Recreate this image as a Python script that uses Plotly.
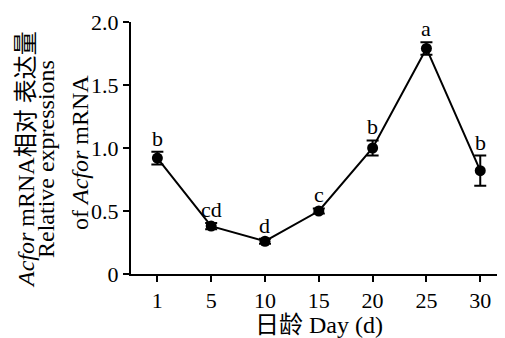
import plotly.graph_objects as go

days = ["1", "5", "10", "15", "20", "25", "30"]
values = [0.92, 0.38, 0.26, 0.50, 1.00, 1.79, 0.82]
errors = [0.05, 0.025, 0.02, 0.02, 0.06, 0.05, 0.12]
letters = ["b", "cd", "d", "c", "b", "a", "b"]
y_tickvals = [0, 0.5, 1.0, 1.5, 2.0]
y_ticktext = ["0", "0.5", "1.0", "1.5", "2.0"]

FONT = "Liberation Serif"
CJK = "Liberation Serif, Noto Sans CJK SC"

# page body has an 8px margin, so the figure is 8px smaller and all pixel
# positions below are given in screen coordinates (converted with OFF)
OFF = 8
W, H = 505 - OFF, 338 - OFF
plot_left = 131 - OFF
plot_top, plot_bottom = 22 - OFF, 274 - OFF
plot_width = W - plot_left

fig = go.Figure()
fig.add_trace(go.Scatter(
    x=list(range(len(days))), y=values,
    mode="lines+markers",
    line=dict(color="black", width=2),
    marker=dict(color="black", size=11, symbol="circle"),
    error_y=dict(type="data", array=errors, visible=True, color="black", thickness=2, width=6),
    showlegend=False,
))

for i, (v, e, t) in enumerate(zip(values, errors, letters)):
    fig.add_annotation(x=i, y=v + e, text=t, showarrow=False, yanchor="bottom", yshift=-1,
                       font=dict(family=FONT, size=22, color="black"))

fig.update_xaxes(
    range=[-0.49, 6.46],
    tickvals=list(range(len(days))), ticktext=days,
    showline=True, linecolor="black", linewidth=2,
    ticks="outside", ticklen=6, tickwidth=2, tickcolor="black",
    showgrid=False, zeroline=False,
    tickfont=dict(family=FONT, size=22, color="black"),
)
fig.update_yaxes(
    range=[0, 2.0],
    tickvals=y_tickvals, ticktext=y_ticktext,
    showline=True, linecolor="black", linewidth=2,
    ticks="outside", ticklen=6, tickwidth=2, tickcolor="black",
    showgrid=False, zeroline=False,
    tickfont=dict(family=FONT, size=22, color="black"),
)


def px_x(xpx):
    return (xpx - OFF - plot_left) / plot_width


def px_y(ypx):
    return (plot_bottom - (ypx - OFF)) / (plot_bottom - plot_top)


# x-axis title (screen coords)
fig.add_annotation(xref="paper", yref="paper", x=px_x(319), y=px_y(325),
                   text="日龄 Day (d)", showarrow=False, xanchor="center", yanchor="middle",
                   font=dict(family=CJK, size=24, color="black"))

# y-axis title lines (screen coords)
for text, xpx, ypx in [
    ("<i>Acfor</i> mRNA相对 表达量", 26, 160),
    ("Relative expressions", 46, 159),
    ("of <i>Acfor</i> mRNA", 80, 153),
]:
    fig.add_annotation(xref="paper", yref="paper", x=px_x(xpx), y=px_y(ypx),
                       text=text, showarrow=False, textangle=-90,
                       xanchor="center", yanchor="middle",
                       font=dict(family=CJK, size=24, color="black"))

fig.update_layout(
    width=W, height=H,
    margin=dict(l=plot_left, r=0, t=plot_top, b=H - plot_bottom),
    paper_bgcolor="white", plot_bgcolor="white",
)

fig.write_html("out.html")
